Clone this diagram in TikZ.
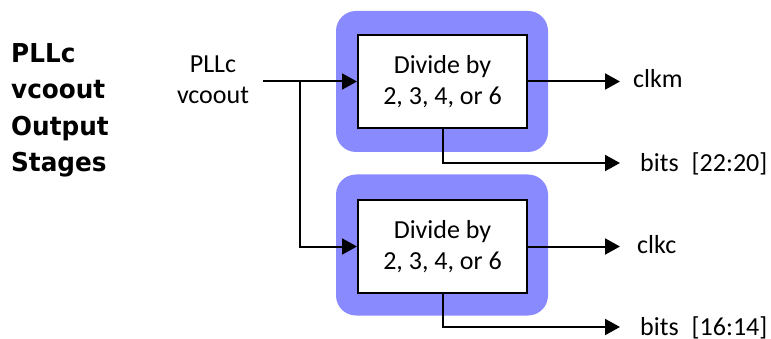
\documentclass[tikz,border=0pt]{standalone}
\usepackage{fontspec}
\setmainfont{Carlito}
\newfontfamily\titlefont{DejaVu Sans}[FakeStretch=0.95]
\usetikzlibrary{arrows.meta,calc}
\definecolor{halo}{HTML}{8A8AFF}
\begin{document}
\begin{tikzpicture}[x=1pt,y=-1pt,
  every node/.style={font=\fontsize{26}{31}\selectfont},
  halobox/.style={fill=halo,draw=none,rounded corners=20pt,minimum width=212pt,minimum height=141pt,inner sep=0pt},
  divbox/.style={draw=black,line width=2pt,fill=white,minimum width=169pt,minimum height=93pt,align=center,inner sep=0pt},
  conn/.style={line width=2pt,-{Triangle[length=15pt,width=16pt]}},
  outlbl/.style={anchor=base west,inner xsep=12pt,inner ysep=0pt}]
\useasboundingbox (0,0) rectangle (771,339);
% title
\node[anchor=north west,align=left,inner sep=0pt,font=\titlefont\fontsize{26}{36.5}\selectfont\bfseries] (title) at (11,43)
  {PLLc\\vcoout\\Output\\Stages};
% halos
\node[halobox] (h1) at (442,81.5) {};
\node[halobox] (h2) at (442,245) {};
% divide boxes
\node[divbox] (d1) at (442.5,81.5) {Divide by\\2, 3, 4, or 6};
\node[divbox] (d2) at (442.5,246.5) {Divide by\\2, 3, 4, or 6};
% input
\node[align=center,inner sep=0pt] (in) at (213,80) {PLLc\\vcoout};
\coordinate (src) at (263,81.5);
\coordinate (j) at (300,81.5);
\draw[conn] (src) -- (d1.west);
\draw[conn] (j) |- (d2.west);
% outputs
\node[outlbl,inner xsep=13pt] (clkm) at (620,88) {clkm};
\node[outlbl,inner xsep=20pt] (bits1) at (620,172) {bits\hspace{13pt}[22:20]};
\node[outlbl,inner xsep=17pt] (clkc) at (620,254) {clkc};
\node[outlbl,inner xsep=20pt] (bits2) at (620,335) {bits\hspace{13pt}[16:14]};
\draw[conn] (d1.east) -- (d1.east -| clkm.west);
\draw[conn] (d2.east) -- (d2.east -| clkc.west);
\coordinate (b1) at (620,163);
\coordinate (b2) at (620,327);
\draw[conn] (d1.south) |- (b1);
\draw[conn] (d2.south) |- (b2);
\end{tikzpicture}
\end{document}
